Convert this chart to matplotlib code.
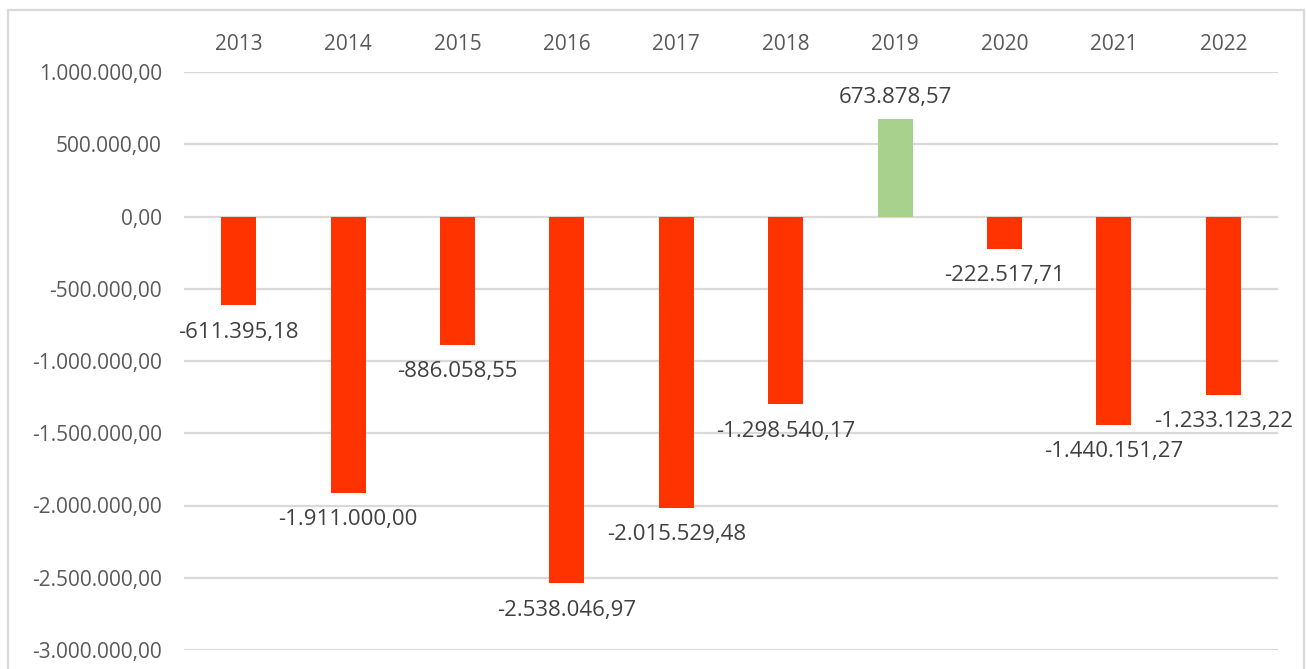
import matplotlib.pyplot as plt
from matplotlib.patches import Rectangle
from matplotlib.ticker import FuncFormatter

### DATA
years = ['2013', '2014', '2015', '2016', '2017', '2018', '2019', '2020', '2021', '2022']
values = [-611395.18, -1911000.00, -886058.55, -2538046.97, -2015529.48,
          -1298540.17, 673878.57, -222517.71, -1440151.27, -1233123.22]
y_ticks = [1000000, 500000, 0, -500000, -1000000, -1500000, -2000000, -2500000, -3000000]

RED = '#FF3300'
GREEN = '#A9D18E'
TEXT = '#595959'
GRID = '#D9D9D9'


def de_fmt(v, pos=None):
    # german style: 1.234.567,89
    s = f'{v:,.2f}'
    return s.replace(',', 'X').replace('.', ',').replace('X', '.')


plt.rcParams['font.family'] = ['Open Sans', 'DejaVu Sans']

fig = plt.figure(figsize=(13.06, 6.69), dpi=100)
ax = fig.add_axes([184 / 1306, 19 / 669, 1094 / 1306, 578 / 669])

x = list(range(len(years)))
colors = [GREEN if v > 0 else RED for v in values]
ax.bar(x, values, width=0.32, color=colors, zorder=3)

for xi, v in zip(x, values):
    if v >= 0:
        ax.annotate(de_fmt(v), (xi, v), xytext=(0, 8), textcoords='offset points',
                    ha='center', va='bottom', fontsize=16, color='#404040')
    else:
        ax.annotate(de_fmt(v), (xi, v), xytext=(0, -12), textcoords='offset points',
                    ha='center', va='top', fontsize=16, color='#404040')

ax.set_xlim(-0.5, len(years) - 0.5)
ax.set_ylim(-3000000, 1000000)
ax.set_yticks(y_ticks)
ax.yaxis.set_major_formatter(FuncFormatter(de_fmt))
ax.set_xticks(x)
ax.set_xticklabels(years)
ax.xaxis.tick_top()
ax.tick_params(axis='x', length=0, pad=12, labelsize=15, labelcolor=TEXT)
ax.tick_params(axis='y', length=0, pad=16, labelsize=15, labelcolor=TEXT)
ax.grid(axis='y', color=GRID, linewidth=1.6, zorder=0)
for s in ax.spines.values():
    s.set_visible(False)

# outer chart frame, bottom edge runs off the picture
frame = Rectangle((8 / 1306, -0.05), 1296 / 1306, 1.05 - 10 / 669,
                  transform=fig.transFigure, fill=False, edgecolor=GRID,
                  linewidth=1.6, clip_on=False)
fig.patches.append(frame)

fig.savefig('out.png', dpi=100)
